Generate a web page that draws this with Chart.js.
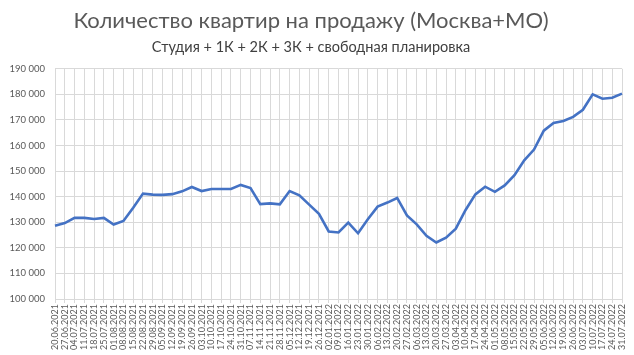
<!DOCTYPE html>
<html>
<head>
<meta charset="utf-8">
<script src="https://cdn.jsdelivr.net/npm/chart.js@4"></script>
<style>
  html, body { margin: 0; padding: 0; background: #fff; }
  #wrap { width: 634px; height: 355px; }
</style>
</head>
<body>
<div id="wrap"><canvas id="canvas" width="634" height="355"></canvas></div>
<script>
var DATES = [ "20.06.2021", "27.06.2021", "04.07.2021", "11.07.2021", "18.07.2021", "25.07.2021",
	"01.08.2021", "08.08.2021", "15.08.2021", "22.08.2021", "29.08.2021", "05.09.2021",
	"12.09.2021", "19.09.2021", "26.09.2021", "03.10.2021", "10.10.2021", "17.10.2021",
	"24.10.2021", "31.10.2021", "07.11.2021", "14.11.2021", "21.11.2021", "28.11.2021",
	"05.12.2021", "12.12.2021", "19.12.2021", "26.12.2021", "02.01.2022", "09.01.2022",
	"16.01.2022", "23.01.2022", "30.01.2022", "06.02.2022", "13.02.2022", "20.02.2022",
	"27.02.2022", "06.03.2022", "13.03.2022", "20.03.2022", "27.03.2022", "03.04.2022",
	"10.04.2022", "17.04.2022", "24.04.2022", "01.05.2022", "08.05.2022", "15.05.2022",
	"22.05.2022", "29.05.2022", "05.06.2022", "12.06.2022", "19.06.2022", "26.06.2022",
	"03.07.2022", "10.07.2022", "17.07.2022", "24.07.2022", "31.07.2022" ];

// количество квартир, шт.
var FLATS = [ 128600, 129700, 131700, 131700, 131300, 131700,
	129100, 130500, 135700, 141200, 140800, 140700,
	141000, 142100, 143800, 142200, 143000, 143000,
	143000, 144600, 143400, 137100, 137400, 137000,
	142200, 140500, 136900, 133300, 126400, 126000,
	129900, 125700, 131200, 136100, 137700, 139500,
	132700, 129200, 124700, 122100, 124000, 127500,
	134800, 140900, 143900, 141900, 144400, 148400,
	154200, 158400, 165800, 168800, 169600, 171200,
	174000, 180000, 178300, 178700, 180300 ];

var Y_MIN = 100000, Y_MAX = 190000, Y_STEP = 10000;

var TITLE = "Количество квартир на продажу (Москва+МО)";
var SUBTITLE = "Студия + 1К + 2К + 3К + свободная планировка";

var FONT = "Lato, 'DejaVu Sans', sans-serif";

function fmt(v) {
	return String(v).replace(/\B(?=(\d{3})+(?!\d))/g, " ");
}

window.onload = function() {
	var ctx = document.getElementById("canvas").getContext("2d");
	window.myLine = new Chart(ctx, {
		type : 'line',
		data : {
			labels : DATES,
			datasets : [ {
				label : 'Квартиры',
				data : FLATS,
				borderColor : '#4472C4',
				borderWidth : 2.6,
				pointRadius : 0,
				tension : 0,
				fill : false
			} ]
		},
		options : {
			responsive : false,
			animation : false,
			layout : {
				padding : { left : 0, right : 12, top : 8, bottom : 2 }
			},
			plugins : {
				legend : { display : false },
				tooltip : { enabled : false },
				title : {
					display : true,
					text : TITLE,
					color : '#595959',
					font : { family : FONT, size : 22, weight : 'normal' },
					padding : { top : 0, bottom : 4 }
				},
				subtitle : {
					display : true,
					text : SUBTITLE,
					color : '#404040',
					font : { family : FONT, size : 14.5, weight : 'normal' },
					padding : { top : 0, bottom : 13 }
				}
			},
			scales : {
				x : {
					offset : false,
					grid : { color : '#d9d9d9', offset : false, tickLength : 4, tickColor : '#d9d9d9' },
					border : { color : '#d9d9d9' },
					ticks : {
						autoSkip : false,
						maxRotation : 90,
						minRotation : 90,
						color : '#595959',
						padding : 1,
						font : { family : FONT, size : 9 }
					},
					afterFit : function(scale) { scale.height = 54; }
				},
				y : {
					min : Y_MIN,
					max : Y_MAX,
					grid : { color : '#d9d9d9', drawTicks : false },
					border : { display : false },
					ticks : {
						stepSize : Y_STEP,
						color : '#595959',
						padding : 10,
						font : { family : FONT, size : 9.5 },
						callback : function(v) { return fmt(v); }
					},
					afterFit : function(scale) { scale.width = 55; }
				}
			}
		}
	});
};
</script>
</body>
</html>
